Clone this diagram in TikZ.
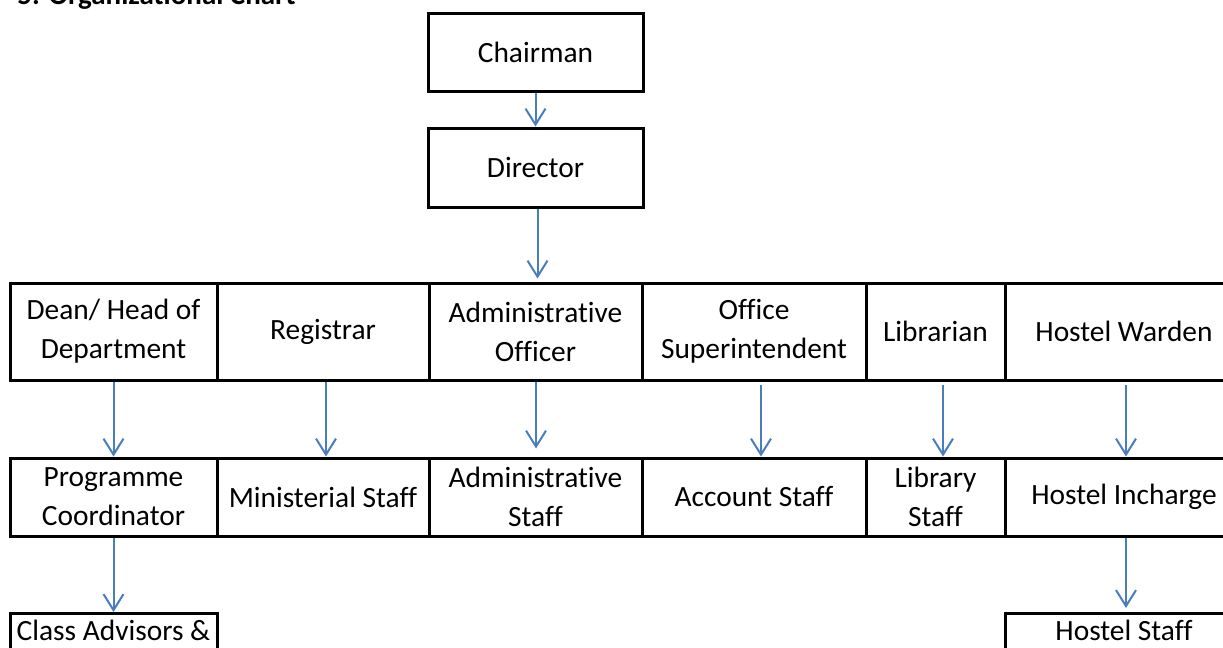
\documentclass[tikz,border=0pt]{standalone}
\usepackage{fontspec}
\setmainfont{Carlito}[Ligatures={NoCommon}]
\usetikzlibrary{arrows.meta,calc}
\definecolor{arrblue}{HTML}{4A7EBB}
\begin{document}
\begin{tikzpicture}[x=0.5pt,y=-0.5pt,
  box/.style={draw=black, line width=1.5pt, align=center, inner sep=0pt, font=\fontsize{14.7}{19.5}\selectfont},
  lbl/.style={font=\fontsize{14.7}{19.5}\selectfont, inner sep=0pt, anchor=base},
  arr/.style={draw=arrblue, line width=1pt, -{Straight Barb[length=8pt,width=10pt]}},
]
\useasboundingbox (0,0) rectangle (1223,648);
\clip (0,0) rectangle (1223,648);
\node[font=\fontsize{14.5}{17}\selectfont\bfseries, anchor=base west, inner sep=0pt] (title) at (17,4.5) {5. Organizational Chart};
% top
\node[box, minimum width=107.5pt, minimum height=39pt] (ch) at (535.5,52) {Chairman};
\node[box, minimum width=107.5pt, minimum height=39.5pt] (dir) at (535.5,167.5) {Director};
% row 1
\node[box, minimum width=103.5pt, minimum height=48.5pt] (dean) at (113.5,331.5) {Dean/ Head of\\Department};
\node[box, minimum width=106pt, minimum height=48.5pt] (reg) at (323,331.5) {Registrar};
\node[box, minimum width=106.5pt, minimum height=48.5pt] (ao) at (535.5,331.5) {Administrative\\Officer};
\node[box, minimum width=112pt, minimum height=48.5pt] (os) at (754,331.5) {Office\\Superintendent};
\node[box, minimum width=69.5pt, minimum height=48.5pt] (lib) at (935.5,331.5) {Librarian};
\node[box, minimum width=119pt, minimum height=48.5pt] (hw) at (1124,331.5) {Hostel Warden};
% row 2
\node[box, minimum width=103.5pt, minimum height=39pt] (pc) at (113.5,497) {Programme\\Coordinator};
\node[box, minimum width=106pt, minimum height=39pt] (ms) at (323,497) {Ministerial Staff};
\node[box, minimum width=106.5pt, minimum height=39pt] (as) at (535.5,497) {Administrative\\Staff};
\node[box, minimum width=112pt, minimum height=39pt] (acs) at (754,497) {Account Staff};
\node[box, minimum width=69.5pt, minimum height=39pt] (ls) at (935.5,497) {Library\\Staff};
\node[box, minimum width=119pt, minimum height=39pt] (hi) at (1124,497) {Hostel Incharge};
% row 3
\node[box, anchor=north, minimum width=103.5pt, minimum height=50pt] (ca) at (113.5,612) {};
\node[lbl] (catext) at ($(ca.north)+(0,28)$) {Class Advisors \&};
\node[box, anchor=north, minimum width=119pt, minimum height=50pt] (hs) at (1124,612) {};
\node[lbl] (hstext) at ($(hs.north)+(0,28)$) {Hostel Staff};
% arrows
\draw[arr] (ch.south) -- (dir.north);
\draw[arr] ([xshift=1pt]dir.south) -- ([xshift=1pt,yshift=1.5pt]ao.north);
\draw[arr] (dean.south) -- (pc.north);
\draw[arr] ([xshift=1.5pt]reg.south) -- ([xshift=1.5pt]ms.north);
\draw[arr] ([xshift=0.25pt]ao.south) -- ([xshift=0.25pt,yshift=4pt]as.north);
\draw[arr] ([xshift=3.5pt,yshift=-1.5pt]os.south) -- ([xshift=3.5pt]acs.north);
\draw[arr] ([xshift=3.75pt,yshift=-1.5pt]lib.south) -- ([xshift=3.75pt]ls.north);
\draw[arr] ([xshift=1pt,yshift=-1.5pt]hw.south) -- ([xshift=1pt]hi.north);
\draw[arr] (pc.south) -- (ca.north);
\draw[arr] ([xshift=1pt]hi.south) -- ([xshift=1pt,yshift=2pt]hs.north);
\end{tikzpicture}
\end{document}
